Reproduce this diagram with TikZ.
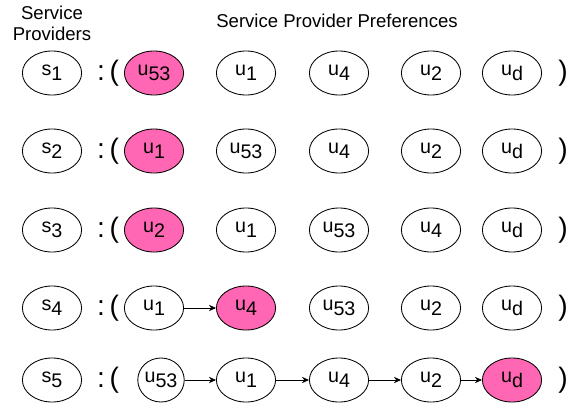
\documentclass[tikz,border=0pt]{standalone}
\usepackage{fontspec}
\setmainfont{Liberation Sans}
\usetikzlibrary{shapes.geometric,arrows.meta}
\definecolor{prefpink}{RGB}{255,102,179}
\tikzstyle{agent}=[ellipse,draw,line width=0.6pt,minimum width=1.48cm,minimum height=1.1cm,inner sep=0pt,font=\fontsize{14}{16}\selectfont]
\tikzstyle{matched}=[agent,fill=prefpink]
\tikzstyle{pref}=[-{Stealth[length=5pt,width=4.5pt]},line width=0.6pt]
\tikzstyle{paren}=[inner sep=0pt,font=\fontsize{20}{22}\selectfont]
\newcommand{\lab}[2]{#1\raisebox{-.5ex}{#2}}

\begin{document}
\begin{tikzpicture}[x=0.025cm,y=-0.025cm]
	\useasboundingbox (0,0) rectangle (569,407);
	% headings
	\node[align=center,font=\fontsize{13.2}{15}\selectfont] (hprov) at (52,23) {Service\\Providers};
	\node[font=\fontsize{13.2}{15}\selectfont] (hpref) at (337,21) {Service Provider Preferences};
	% s1
	\node[agent] (s1) at (52,73) {\lab{s}{1}};
	\node[paren] (o1) at (108,73) {:\,(};
	\node[matched] (u11) at (154,73) {\lab{u}{53}};
	\node[agent] (u12) at (246,73) {\lab{u}{1}};
	\node[agent] (u13) at (339,73) {\lab{u}{4}};
	\node[agent] (u14) at (431,73) {\lab{u}{2}};
	\node[agent] (u15) at (512,73) {\lab{u}{d}};
	\node[paren] (c1) at (563,73) {)};
	% s2
	\node[agent] (s2) at (52,151) {\lab{s}{2}};
	\node[paren] (o2) at (108,151) {:\,(};
	\node[matched] (u21) at (154,151) {\lab{u}{1}};
	\node[agent] (u22) at (246,151) {\lab{u}{53}};
	\node[agent] (u23) at (339,151) {\lab{u}{4}};
	\node[agent] (u24) at (431,151) {\lab{u}{2}};
	\node[agent] (u25) at (512,151) {\lab{u}{d}};
	\node[paren] (c2) at (563,151) {)};
	% s3
	\node[agent] (s3) at (52,230) {\lab{s}{3}};
	\node[paren] (o3) at (108,230) {:\,(};
	\node[matched] (u31) at (154,230) {\lab{u}{2}};
	\node[agent] (u32) at (246,230) {\lab{u}{1}};
	\node[agent] (u33) at (339,230) {\lab{u}{53}};
	\node[agent] (u34) at (431,230) {\lab{u}{4}};
	\node[agent] (u35) at (512,230) {\lab{u}{d}};
	\node[paren] (c3) at (563,230) {)};
	% s4
	\node[agent] (s4) at (52,308) {\lab{s}{4}};
	\node[paren] (o4) at (108,308) {:\,(};
	\node[agent] (u41) at (154,308) {\lab{u}{1}};
	\node[matched] (u42) at (246,308) {\lab{u}{4}};
	\node[agent] (u43) at (339,308) {\lab{u}{53}};
	\node[agent] (u44) at (431,308) {\lab{u}{2}};
	\node[agent] (u45) at (512,308) {\lab{u}{d}};
	\node[paren] (c4) at (563,308) {)};
	\draw[pref] (u41) -- (u42);
	% s5
	\node[agent] (s5) at (52,380) {\lab{s}{5}};
	\node[paren] (o5) at (108,380) {:\,(};
	\node[agent,minimum width=1.15cm] (u51) at (161,380) {\lab{u}{53}};
	\node[agent] (u52) at (246,380) {\lab{u}{1}};
	\node[agent] (u53) at (339,380) {\lab{u}{4}};
	\node[agent] (u54) at (431,380) {\lab{u}{2}};
	\node[matched] (u55) at (512,380) {\lab{u}{d}};
	\node[paren] (c5) at (563,380) {)};
	\draw[pref] (u51) -- (u52);
	\draw[pref] (u52) -- (u53);
	\draw[pref] (u53) -- (u54);
	\draw[pref] (u54) -- (u55);
\end{tikzpicture}
\end{document}
